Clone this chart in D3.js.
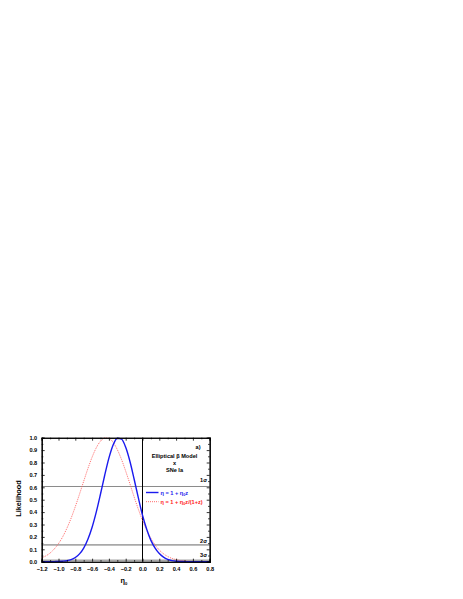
<!DOCTYPE html>
<html><head><meta charset="utf-8">
<script src="https://cdn.jsdelivr.net/npm/d3@7"></script>
<style>body{margin:0;background:#fff}svg{display:block}text{font-family:"Liberation Sans",Arial,sans-serif;font-weight:bold}</style>
</head><body>
<script>
const etaGrid = [-1.2,-1.15,-1.1,-1.05,-1.0,-0.95,-0.9,-0.85,-0.8,-0.75,-0.7,-0.65,-0.6,-0.55,-0.5,-0.45,-0.4,-0.35,-0.3,-0.25,-0.2,-0.15,-0.1,-0.05,0.0,0.05,0.1,0.15,0.2,0.25,0.3,0.35,0.4,0.45,0.5,0.55,0.6,0.65,0.7,0.75,0.8];
const likeLinear = [0.000,0.000,0.000,0.001,0.002,0.004,0.008,0.017,0.034,0.063,0.110,0.181,0.278,0.402,0.546,0.697,0.835,0.941,0.995,0.989,0.923,0.810,0.667,0.516,0.375,0.262,0.172,0.110,0.066,0.037,0.019,0.009,0.004,0.002,0.001,0.000,0.000,0.000,0.000,0.000,0.000];
const likeRatio = [0.030,0.047,0.070,0.103,0.146,0.201,0.270,0.351,0.444,0.545,0.649,0.751,0.843,0.919,0.972,0.998,0.995,0.963,0.904,0.825,0.730,0.628,0.523,0.424,0.333,0.254,0.188,0.135,0.094,0.064,0.042,0.027,0.017,0.010,0.006,0.003,0.002,0.001,0.000,0.000,0.000];
const sigmaLevels = [0.6065,0.1353,0.0111];
const sigmaLabels = ["1σ","2σ","3σ"];
const sigmaLabelY = [0.645,0.153,0.035];
const xTicks = [-1.2,-1.0,-0.8,-0.6,-0.4,-0.2,0.0,0.2,0.4,0.6,0.8];
const yTicks = [0.0,0.1,0.2,0.3,0.4,0.5,0.6,0.7,0.8,0.9,1.0];
const legendLabels = ["η = 1 + η","η = 1 + η"];

const W=463,H=599;
const L=41.7,T=437.7,PW=168,PH=124;
const svg=d3.select("body").append("svg").attr("width",W).attr("height",H);
const x=d3.scaleLinear().domain([-1.2,0.8]).range([L,L+PW]);
const y=d3.scaleLinear().domain([0,1]).range([T+PH,T]);

// sigma lines
const sigStyle=[{c:"#8a8a8a",w:1},{c:"#a8a8a8",w:1.6},{c:"#a8a8a8",w:1.6}];
sigmaLevels.forEach((v,i)=>{
  svg.append("line").attr("x1",x(-1.2)).attr("x2",x(0.8)).attr("y1",y(v)).attr("y2",y(v))
    .attr("stroke",sigStyle[i].c).attr("stroke-width",sigStyle[i].w);
});
// vertical line at 0
svg.append("line").attr("x1",x(0)).attr("x2",x(0)).attr("y1",y(0)).attr("y2",y(1)).attr("stroke","#000").attr("stroke-width",1);

const line=d3.line().x((d,i)=>x(etaGrid[i])).y(d=>y(d)).curve(d3.curveMonotoneX);
svg.append("path").attr("d",line(likeRatio)).attr("fill","none").attr("stroke","#ff5a5a").attr("stroke-width",0.9).attr("stroke-dasharray","1,1");
svg.append("path").attr("d",line(likeLinear)).attr("fill","none").attr("stroke","#1a1aee").attr("stroke-width",1.4);

// axes (inward ticks)
const fs=5.6;
const gx=svg.append("g").attr("transform",`translate(0,${T+PH})`)
  .call(d3.axisBottom(x).tickValues(xTicks).tickSize(-3).tickPadding(6).tickFormat(d3.format(".1f")));
const gxm=svg.append("g").attr("transform",`translate(0,${T+PH})`)
  .call(d3.axisBottom(x).tickValues(d3.range(-1.1,0.8,0.2)).tickSize(-1.6).tickFormat(""));
const gxt=svg.append("g").attr("transform",`translate(0,${T})`)
  .call(d3.axisTop(x).tickValues(xTicks).tickSize(-3).tickFormat(""));
const gxtm=svg.append("g").attr("transform",`translate(0,${T})`)
  .call(d3.axisTop(x).tickValues(d3.range(-1.1,0.8,0.2)).tickSize(-1.6).tickFormat(""));
const gy=svg.append("g").attr("transform",`translate(${L},0)`)
  .call(d3.axisLeft(y).tickValues(yTicks).tickSize(-3).tickPadding(4.5).tickFormat(d3.format(".1f")));
const gym=svg.append("g").attr("transform",`translate(${L},0)`)
  .call(d3.axisLeft(y).tickValues(d3.range(0.05,1,0.1)).tickSize(-1.6).tickFormat(""));
const gyr=svg.append("g").attr("transform",`translate(${L+PW},0)`)
  .call(d3.axisRight(y).tickValues(yTicks).tickSize(-3).tickFormat(""));
const gyrm=svg.append("g").attr("transform",`translate(${L+PW},0)`)
  .call(d3.axisRight(y).tickValues(d3.range(0.05,1,0.1)).tickSize(-1.6).tickFormat(""));
[gx,gxm,gxt,gxtm,gy,gym,gyr,gyrm].forEach(g=>{
  g.select(".domain").attr("stroke","#000").attr("stroke-width",1.1);
  g.selectAll(".tick line").attr("stroke","#000").attr("stroke-width",0.8);
  g.selectAll("text").attr("font-size",fs).attr("font-family","Liberation Sans, Arial, sans-serif").attr("font-weight","bold").attr("fill","#000");
});
gx.selectAll("text").attr("dy","0.6em");

// axis titles
svg.append("text").attr("transform",`translate(20.7,498.5) rotate(-90)`).attr("text-anchor","middle")
  .attr("font-size",7.3).text("Likelihood");
const xt=svg.append("text").attr("x",124).attr("y",583).attr("text-anchor","middle").attr("font-size",7.3);
xt.append("tspan").text("η");
xt.append("tspan").attr("font-size",4.2).attr("dy",1.8).text("0");

// annotations
svg.append("text").attr("x",200.5).attr("y",449).attr("text-anchor","end").attr("font-size",5.6).text("a)");
const ann=["Elliptical β Model","x","SNe Ia"], annY=[457.7,465,471.7];
ann.forEach((t,i)=>svg.append("text").attr("x",174.5).attr("y",annY[i]).attr("text-anchor","middle").attr("font-size",5.6).text(t));
sigmaLabels.forEach((t,i)=>svg.append("text").attr("x",207).attr("y",y(sigmaLabelY[i])).attr("text-anchor","end")
  .attr("font-size",5.6).attr("font-family","DejaVu Serif, serif").attr("font-weight","normal").text(t));

// legend
const lg=[{c:"#1a1aee",w:1.4,d:null,y:492.5},{c:"#ff5a5a",w:0.9,d:"1,1",y:501.7}];
lg.forEach((l,i)=>{
  svg.append("line").attr("x1",146).attr("x2",158.5).attr("y1",l.y).attr("y2",l.y).attr("stroke",l.c).attr("stroke-width",l.w).attr("stroke-dasharray",l.d);
  const t=svg.append("text").attr("x",160.5).attr("y",l.y+2).attr("font-size",5.6).attr("fill",i===0?"#1a1aee":"#ff2020");
  t.append("tspan").text(legendLabels[i]);
  t.append("tspan").attr("font-size",3.8).attr("dy",1.2).text("0");
  t.append("tspan").attr("dy",-1.2).text(i===0?"z":"z/(1+z)");
});
</script>
</body></html>
